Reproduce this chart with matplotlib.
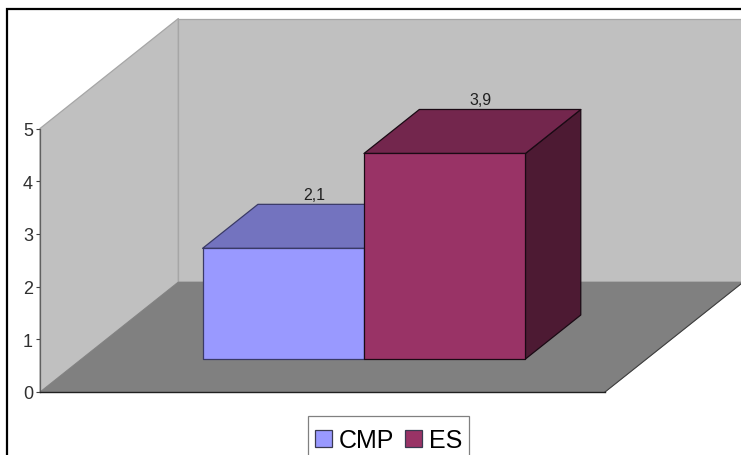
import matplotlib
matplotlib.use('Agg')
import matplotlib.pyplot as plt
from matplotlib.patches import Patch, Polygon, Rectangle

categories = ['CMP', 'ES']
values = [2.1, 3.9]
value_labels = ['2,1', '3,9']
y_ticks = [0, 1, 2, 3, 4, 5]

front_colors = ['#9999FF', '#993366']
top_colors = ['#7373BF', '#73264D']
side_colors = ['#4D4D80', '#4D1A33']

WALL = '#C0C0C0'
FLOOR = '#808080'
WALL_EDGE = '#A6A6A6'

# Oblique projection: how far the back of the chart box shifts, in data units
Y_MAX = 5
X_MAX = 3.5
DEPTH_X = 0.857
DEPTH_Y = 2.087
GAP = 0.75
BAR_DEPTH = (0.3, 0.7)
LABEL_SHIFT = (2.5, 5.5)


def project(x, y, depth):
    """
    Projects a point of the 3D box onto the axes plane.

    Args:
        x (float): Position along the category axis.
        y (float): Value along the vertical axis.
        depth (float): Depth into the box, 0 at the front and 1 at the back.

    Returns:
        tuple: x and y in axes data coordinates.
    """
    return x + depth * DEPTH_X, y + depth * DEPTH_Y


def add_face(ax, points, color, edge, lw=0.9, zorder=1):
    """
    Adds one flat face of the box or of a bar.
    """
    face = Polygon([project(*p) for p in points], closed=True, facecolor=color,
                   edgecolor=edge, linewidth=lw, clip_on=False, zorder=zorder,
                   joinstyle='round')
    ax.add_patch(face)


def draw_box(ax):
    """
    Draws the side wall, the back wall and the floor.
    """
    add_face(ax, [(0, 0, 0), (0, 0, 1), (0, Y_MAX, 1), (0, Y_MAX, 0)],
             WALL, WALL_EDGE)
    add_face(ax, [(0, 0, 1), (X_MAX, 0, 1), (X_MAX, Y_MAX, 1), (0, Y_MAX, 1)],
             WALL, WALL_EDGE)
    add_face(ax, [(0, 0, 0), (X_MAX, 0, 0), (X_MAX, 0, 1), (0, 0, 1)],
             FLOOR, FLOOR, lw=0.5)
    ax.plot(*zip(project(X_MAX, 0, 0), project(X_MAX, 0, 1)), color='#404040',
            lw=0.8, clip_on=False, zorder=1.2)


def draw_bars(ax):
    """
    Draws each bar as front, top and side faces with its value label.
    """
    near, far = BAR_DEPTH
    for i, value in enumerate(values):
        x0 = GAP + i
        x1 = x0 + 1
        z = 2 + i
        edge = '#1A0A14' if i else '#3A3A66'
        add_face(ax, [(x1, 0, near), (x1, 0, far), (x1, value, far), (x1, value, near)],
                 side_colors[i], edge, zorder=z)
        add_face(ax, [(x0, value, near), (x1, value, near), (x1, value, far), (x0, value, far)],
                 top_colors[i], edge, zorder=z)
        add_face(ax, [(x0, 0, near), (x1, 0, near), (x1, value, near), (x0, value, near)],
                 front_colors[i], edge, zorder=z)

        label_x, _ = project(x0 + 0.5, value, 0.5)
        _, label_y = project(x0, value, far)
        ax.annotate(value_labels[i], (label_x, label_y), xytext=(LABEL_SHIFT[i], 1.5),
                    textcoords='offset points', ha='center', va='bottom',
                    fontsize=11.5, color='#202020', zorder=6, annotation_clip=False)


def main():
    plt.rcParams['font.family'] = ['Liberation Sans', 'DejaVu Sans']

    fig = plt.figure(figsize=(7.41, 4.56), dpi=100, facecolor='white')
    ax = fig.add_axes([40 / 741, 63 / 456, 565 / 741, 263.5 / 456])
    ax.set_xlim(0, X_MAX)
    ax.set_ylim(0, Y_MAX)
    ax.patch.set_visible(False)

    draw_box(ax)
    draw_bars(ax)

    # Axis lines and ticks
    ax.spines[['top', 'right']].set_visible(False)
    ax.spines['left'].set_color('#606060')
    ax.spines['left'].set_linewidth(0.9)
    ax.spines['bottom'].set_color('#202020')
    ax.spines['bottom'].set_linewidth(1.0)
    ax.set_xticks([])
    ax.set_yticks(y_ticks)
    ax.tick_params(axis='y', length=3, width=0.8, color='#404040', pad=2,
                   labelsize=13, labelcolor='#303030')

    # Outer frame runs past the right and bottom edges of the figure
    fig.add_artist(Rectangle((7 / 741, -0.05), 1, 1.05 - 10 / 456, fill=False,
                             edgecolor='black', linewidth=1.6,
                             transform=fig.transFigure))

    # Legend box is drawn apart so it can run off the bottom edge
    fig.add_artist(Rectangle((308 / 741, -0.02), 161 / 741, 0.02 + 39 / 456,
                             facecolor='white', edgecolor='#808080', linewidth=0.9,
                             transform=fig.transFigure))
    handles = [Patch(facecolor=c, edgecolor='#3A3A50', linewidth=0.9) for c in front_colors]
    fig.legend(handles, categories, loc='upper center', ncols=2,
               bbox_to_anchor=(388.5 / 741, 1 - 429 / 456), fontsize=18,
               frameon=False, handlelength=0.68, handleheight=0.7, handletextpad=0.28,
               columnspacing=0.44, borderpad=0, borderaxespad=0)

    fig.savefig('out.png', dpi=100)


if __name__ == "__main__":
    main()
